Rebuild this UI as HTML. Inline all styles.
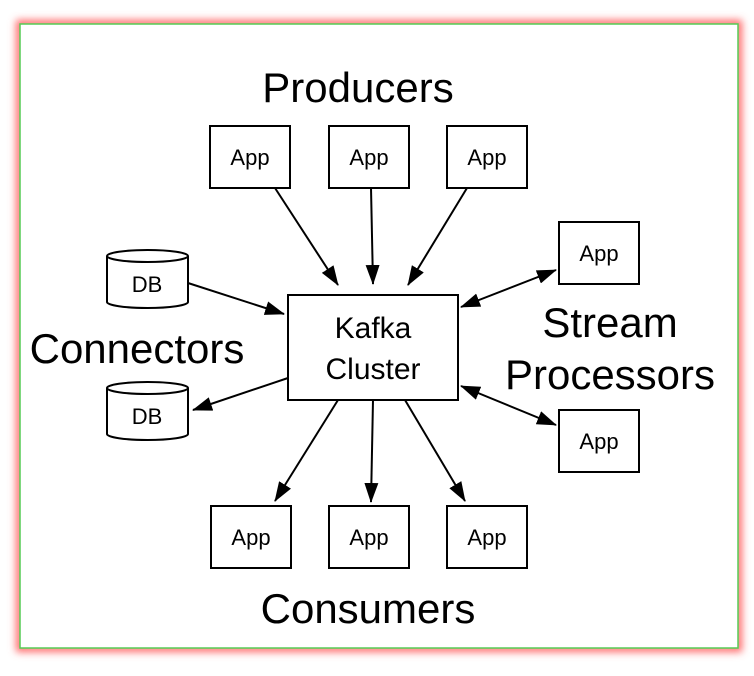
<!DOCTYPE html>
<html><head><style>
body{margin:0;background:#fff;}
svg{display:block;font-family:"Liberation Sans",Arial,sans-serif;}
</style></head><body>
<svg width="754" height="676" viewBox="0 0 754 676" xmlns="http://www.w3.org/2000/svg">
<defs>
<filter id="g" x="-5%" y="-5%" width="110%" height="110%"><feGaussianBlur stdDeviation="4"/></filter>
<marker id="a" markerWidth="20" markerHeight="14" refX="19" refY="7" orient="auto" markerUnits="userSpaceOnUse"><path d="M0,0 L20,7 L0,14 z" fill="#000"/></marker>
<marker id="b" markerWidth="20" markerHeight="14" refX="1" refY="7" orient="auto" markerUnits="userSpaceOnUse"><path d="M20,0 L0,7 L20,14 z" fill="#000"/></marker>
</defs>
<rect x="20" y="24" width="718" height="624" fill="none" stroke="#f66" stroke-width="8" filter="url(#g)"/>
<rect x="20" y="24" width="718" height="624" fill="#fff" stroke="#5c5" stroke-width="1.5"/>
<g fill="#fff" stroke="#000" stroke-width="2">
<rect x="210" y="126" width="80" height="62"/>
<rect x="329" y="126" width="80" height="62"/>
<rect x="447" y="126" width="80" height="62"/>
<rect x="288" y="295" width="170" height="105"/>
<rect x="559" y="222" width="80" height="62"/>
<rect x="559" y="410" width="80" height="62"/>
<rect x="211" y="506" width="80" height="62"/>
<rect x="329" y="506" width="80" height="62"/>
<rect x="447" y="506" width="80" height="62"/>
<path d="M107,256 v46 a40.5,6 0 0 0 81,0 v-46 a40.5,6 0 0 0 -81,0 a40.5,6 0 0 0 81,0"/>
<path d="M107,388 v46 a40.5,6 0 0 0 81,0 v-46 a40.5,6 0 0 0 -81,0 a40.5,6 0 0 0 81,0"/>
</g>
<g stroke="#000" stroke-width="2" fill="none">
<line x1="275" y1="188" x2="338" y2="285" marker-end="url(#a)"/>
<line x1="371" y1="188" x2="373" y2="284" marker-end="url(#a)"/>
<line x1="467" y1="188" x2="408" y2="285" marker-end="url(#a)"/>
<line x1="188" y1="283" x2="284" y2="314" marker-end="url(#a)"/>
<line x1="288" y1="378" x2="193" y2="410" marker-end="url(#a)"/>
<line x1="461" y1="307" x2="556" y2="270" marker-end="url(#a)" marker-start="url(#b)"/>
<line x1="461" y1="386" x2="556" y2="425" marker-end="url(#a)" marker-start="url(#b)"/>
<line x1="338" y1="400" x2="275" y2="501" marker-end="url(#a)"/>
<line x1="373" y1="400" x2="371" y2="502" marker-end="url(#a)"/>
<line x1="405" y1="400" x2="465" y2="501" marker-end="url(#a)"/>
</g>
<g font-size="22" text-anchor="middle">
<text x="250" y="165">App</text>
<text x="369" y="165">App</text>
<text x="487" y="165">App</text>
<text x="599" y="261">App</text>
<text x="599" y="449">App</text>
<text x="251" y="545">App</text>
<text x="369" y="545">App</text>
<text x="487" y="545">App</text>
<text x="147" y="292">DB</text>
<text x="147" y="424">DB</text>
</g>
<g font-size="30" text-anchor="middle">
<text x="373" y="338">Kafka</text>
<text x="373" y="379">Cluster</text>
</g>
<g font-size="42" text-anchor="middle">
<text x="358" y="102">Producers</text>
<text x="137" y="363">Connectors</text>
<text x="610" y="337">Stream</text>
<text x="610" y="389">Processors</text>
<text x="368" y="623">Consumers</text>
</g>
</svg>
</body></html>
